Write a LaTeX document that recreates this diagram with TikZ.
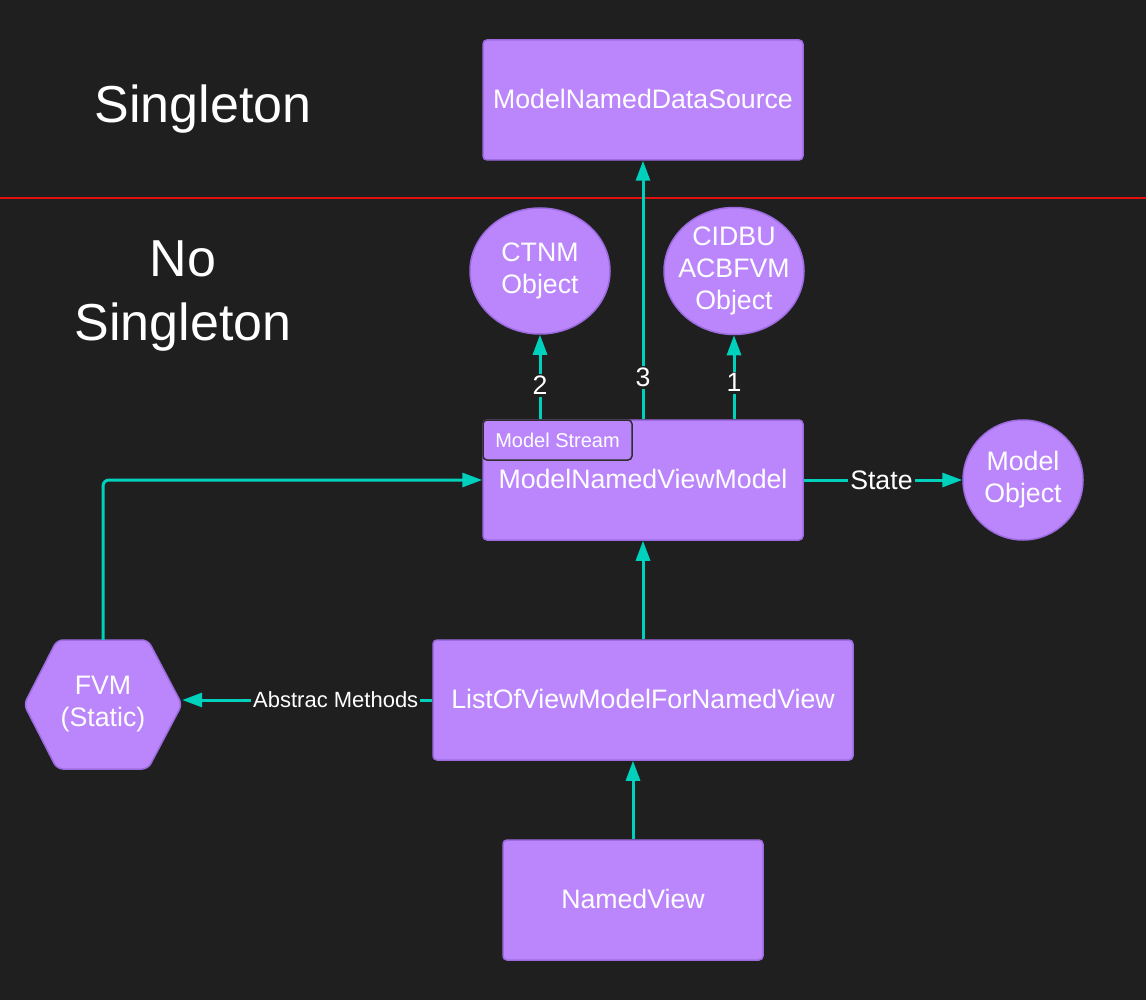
\documentclass[tikz,border=0pt]{standalone}
\usepackage{fontspec}
\setmainfont{Liberation Sans}
\usetikzlibrary{arrows.meta,shapes.geometric}
\definecolor{bg}{HTML}{1F1F1F}
\definecolor{purp}{HTML}{BB86FC}
\definecolor{purpd}{HTML}{9D6BE0}
\definecolor{tagd}{HTML}{2E2E2E}
\definecolor{tealc}{HTML}{00D1BC}
\definecolor{redl}{HTML}{E3100F}
\begin{document}
\begin{tikzpicture}[x=1pt,y=-1pt,
  mainfont/.style={font=\fontsize{26.7}{32}\selectfont},
  box/.style={draw=purpd, fill=purp, line width=1.5pt, rounded corners=4pt, text=white, mainfont, align=center, inner sep=0pt},
  ell/.style={ellipse, draw=purpd, fill=purp, line width=1.5pt, text=white, mainfont, align=center, inner sep=-30pt},
  circ/.style={circle, draw=purpd, fill=purp, line width=1.5pt, text=white, mainfont, align=center, inner sep=0pt},
  conn/.style={draw=tealc, line width=3pt, -{Triangle[length=20pt,width=14pt]}},
  lbl/.style={fill=bg, text=white, inner sep=2pt, mainfont},
  big/.style={text=white, font=\fontsize{52}{64}\selectfont, align=center}]
\useasboundingbox (0,0) rectangle (1146,1000);
\fill[bg] (0,0) rectangle (1146,1000);
\draw[redl, line width=2pt] (0,198) -- (1146,198);

\node[big] (sing) at (203,109) {Singleton};
\node[big] (nosing) at (183,296) {No\\Singleton};

\node[box, minimum width=320pt, minimum height=120pt] (ds) at (643,100) {\raisebox{3pt}{ModelNamedDataSource}};
\node[box, minimum width=320pt, minimum height=120pt] (vm) at (643,480) {\raisebox{2pt}{ModelNamedViewModel}};
\node[box, minimum width=420pt, minimum height=120pt] (lst) at (643,700) {\raisebox{2pt}{ListOfViewModelForNamedView}};
\node[box, minimum width=260pt, minimum height=120pt] (nv) at (633,900) {\raisebox{2pt}{NamedView}};
\node[ell, minimum width=140pt, minimum height=126pt] (ctnm) at (540,271) {CTNM\\Object};
\node[ell, minimum width=140pt, minimum height=127pt] (cid) at (734,271) {CIDBU\\ACBFVM\\Object};
\node[circ, minimum size=120pt] (mo) at (1023,480) {Model\\Object};
\node[box, draw=tagd, minimum width=149pt, minimum height=40pt, font=\fontsize{20}{24}\selectfont] (tag) at (557.5,440) {Model Stream};

\draw[draw=purpd, fill=purp, line width=1.5pt, rounded corners=6pt]
  (103,640) -- (148,640) -- (182,704.5) -- (148,769) -- (57,769) -- (24,704.5) -- (57,640) -- cycle;
\node[minimum width=158pt, minimum height=129pt, inner sep=0pt, text=white, mainfont, align=center] (fvm) at (103,704.5) {FVM\\(Static)};

\draw[conn] (vm.north) -- node[lbl, pos=0.163] {3} (ds.south);
\draw[conn] (ctnm.south |- vm.north) -- node[lbl, pos=0.4] {2} (ctnm.south);
\draw[conn] (cid.south |- vm.north) -- node[lbl, pos=0.435] {1} (cid.south);
\draw[conn, rounded corners=6pt] (fvm.north) |- (vm.west);
\draw[conn] (lst.north) -- (vm.south);
\draw[conn] (nv.north) -- (nv.north |- lst.south);
\draw[conn] (lst.west) -- node[lbl, pos=0.386, font=\fontsize{22}{26}\selectfont] {Abstrac Methods} (lst.west -| fvm.east);
\draw[conn] (vm.east) -- node[lbl, pos=0.49] {State} (mo.west);
\end{tikzpicture}
\end{document}
